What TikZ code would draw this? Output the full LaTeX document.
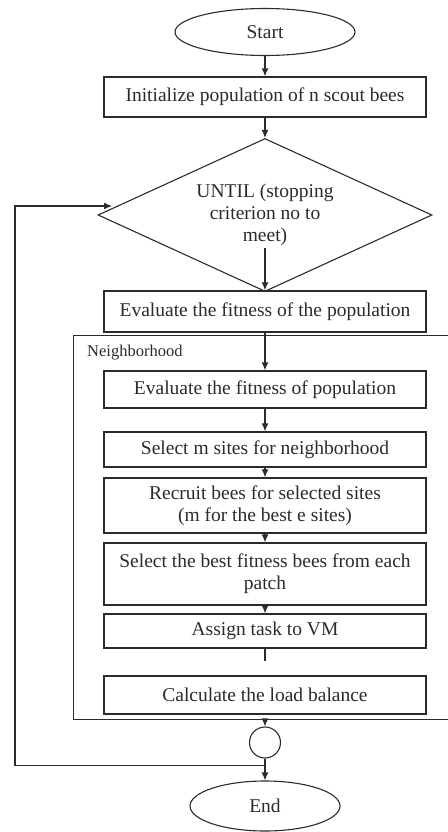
\documentclass[tikz,border=0pt]{standalone}
\usepackage{fontspec}
\setmainfont{Liberation Serif}
\usetikzlibrary{shapes.geometric, arrows.meta, positioning, calc}
\definecolor{ink}{HTML}{2B2B2B}

\begin{document}
\begin{tikzpicture}[
    on grid,
    every node/.style={font=\fontsize{19.5}{22}\selectfont, text=ink},
    term/.style={ellipse, draw=ink, line width=1.1pt, inner sep=0pt},
    proc/.style={rectangle, draw=ink, line width=1.4pt, minimum width=322pt, align=center, inner sep=2pt},
    dec/.style={diamond, draw=ink, line width=1.1pt, align=center, aspect=2.2, inner sep=0pt, minimum width=334pt, minimum height=153pt},
    conn/.style={circle, draw=ink, line width=1.1pt, minimum size=31pt, inner sep=0pt},
    frame/.style={rectangle, draw=ink, line width=1.1pt, anchor=north west},
    lbl/.style={font=\fontsize{16.5}{18}\selectfont, anchor=west, inner sep=0pt},
    arr/.style={-{Latex[length=8pt, width=7pt]}, line width=1.1pt, draw=ink},
    ln/.style={line width=1.1pt, draw=ink}
]
    \useasboundingbox (0,0) rectangle (447pt,-832pt);

    \node[term, minimum width=180pt, minimum height=47pt] (start) at (265pt,-32pt) {Start};
    \node[proc, minimum height=40pt, below=65pt of start]   (init)    {Initialize population of n scout bees};
    \node[dec,  below=118pt of init]                        (dia)     {UNTIL (stopping\\criterion no to\\meet)};
    \node[proc, minimum height=41pt, below=96.5pt of dia]   (eval)    {Evaluate the fitness of the population};
    \node[frame, minimum width=400pt, minimum height=384pt] (nbhd) at (73pt,-335pt) {};
    \node[lbl]                                              (nblbl) at (87pt,-353pt) {Neighborhood};
    \node[proc, minimum height=37pt, below=78pt of eval]    (evalpop) {Evaluate the fitness of population};
    \node[proc, minimum height=35pt, below=60pt of evalpop] (sel)     {Select m sites for neighborhood};
    \node[proc, minimum height=55pt, below=56pt of sel]     (recruit) {Recruit bees for selected sites\\(m for the best e sites)};
    \node[proc, minimum height=62pt, below=68.5pt of recruit] (best)  {Select the best fitness bees from each\\patch};
    \node[proc, minimum height=34pt, below=57pt of best]    (assign)  {Assign task to VM};
    \node[proc, minimum height=38pt, below=64pt of assign]  (calc)    {Calculate the load balance};
    \node[conn, below=47.5pt of calc]                       (circ)    {};
    \node[term, minimum width=150pt, minimum height=50pt, below=63.5pt of circ] (stop) {End};

    \coordinate (stub)  at ([yshift=-12pt]assign.south);
    \coordinate (loop)  at ([yshift=-7pt]circ.south);
    \coordinate (entry) at (112pt,-206pt);

    \draw[arr] (start) -- (init);
    \draw[arr] (init) -- (dia);
    \draw[arr] ([yshift=44pt]dia.south) -- (eval);
    \draw[arr] (eval) -- (evalpop);
    \draw[arr] (evalpop) -- (sel);
    \draw[arr] (sel) -- (recruit);
    \draw[arr] (recruit) -- (best);
    \draw[arr] (best) -- (assign);
    \draw[ln]  (assign.south) -- (stub);
    \draw[arr] (circ |- nbhd.south) -- (circ);
    \draw[arr] (circ) -- (stop);
    \draw[arr] (loop) -| (15pt,-206pt) -- (entry);
\end{tikzpicture}
\end{document}
